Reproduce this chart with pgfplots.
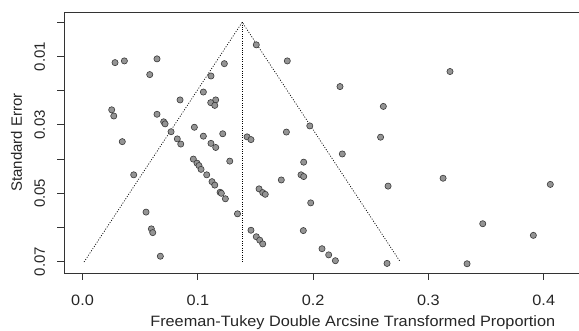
\documentclass[border=0pt]{standalone}
\usepackage{fontspec}
\setmainfont{Liberation Sans}[FakeStretch=1.085]
\newfontfamily\vfont{Liberation Sans}
\usepackage{pgfplots}
\pgfplotsset{compat=1.18}
\pgfplotstableread{
x y
0.0282 0.0118
0.0363 0.0113
0.0646 0.0107
0.0583 0.0153
0.1230 0.0121
0.1114 0.0157
0.1048 0.0204
0.0846 0.0227
0.1155 0.0227
0.1112 0.0235
0.1147 0.0243
0.0253 0.0256
0.0271 0.0274
0.0646 0.0269
0.0704 0.0291
0.0716 0.0297
0.0768 0.0320
0.0970 0.0307
0.1048 0.0333
0.1216 0.0326
0.0345 0.0349
0.0822 0.0341
0.0852 0.0356
0.1114 0.0354
0.1155 0.0366
0.0961 0.0400
0.0993 0.0412
0.1010 0.0419
0.1028 0.0430
0.1077 0.0446
0.1123 0.0466
0.1147 0.0476
0.1193 0.0497
0.1204 0.0500
0.1239 0.0516
0.1277 0.0406
0.1344 0.0560
0.0444 0.0446
0.0551 0.0555
0.0597 0.0604
0.0609 0.0615
0.0675 0.0684
0.1507 0.0066
0.1776 0.0113
0.2233 0.0188
0.2609 0.0246
0.1971 0.0303
0.1768 0.0321
0.1427 0.0335
0.1461 0.0343
0.2585 0.0336
0.2253 0.0385
0.1918 0.0409
0.1724 0.0461
0.1895 0.0446
0.1918 0.0451
0.1531 0.0487
0.1563 0.0498
0.1585 0.0503
0.1979 0.0528
0.2650 0.0479
0.1461 0.0608
0.1507 0.0627
0.1537 0.0637
0.1563 0.0648
0.1915 0.0609
0.2077 0.0662
0.2135 0.0680
0.2193 0.0697
0.2641 0.0705
0.3187 0.0144
0.3127 0.0456
0.4057 0.0474
0.3471 0.0589
0.3910 0.0623
0.3335 0.0706
}\studies
\begin{document}
\fontsize{15}{18}\selectfont
\begin{tikzpicture}
\path[use as bounding box] (-64.3pt,-58pt) rectangle (514.7pt,273pt);
\begin{axis}[
  scale only axis, width=577pt, height=261pt,
  at={(0pt,0pt)}, anchor=south west,
  xmin=-0.0158, xmax=0.4846,
  ymin=-0.003, ymax=0.0733, y dir=reverse,
  scaled x ticks=false, scaled y ticks=false,
  axis line style={black!80, line width=0.8pt},
  tick pos=left, tick align=outside,
  major tick length=7pt,
  tick style={black!80, line width=0.8pt},
  xtick={0,0.1,0.2,0.3,0.4},
  xticklabels={0.0,0.1,0.2,0.3,0.4},
  ytick={0,0.01,0.02,0.03,0.04,0.05,0.06,0.07},
  yticklabels={{},0.01,{},0.03,{},0.05,{},0.07},
  /pgf/number format/assume math mode=true,
  xticklabel style={anchor=north, inner sep=0pt, font=\fontsize{15}{18}\selectfont, text=black!85},
  yticklabel style={rotate=90, anchor=south, inner sep=0pt, font=\vfont\fontsize{15}{18}\selectfont, text=black!85},
  xticklabel shift=14.6pt,
  yticklabel shift=12pt,
  xlabel={Freeman-Tukey Double Arcsine Transformed Proportion},
  ylabel={Standard Error},
  every axis x label/.style={at={([yshift=-54pt]axis description cs:0.5,0)}, anchor=base, font=\fontsize{15}{18}\selectfont, text=black!85},
  every axis y label/.style={at={([xshift=-42.3pt]axis description cs:0,0.5)}, rotate=90, anchor=base, font=\vfont\fontsize{15}{18}\selectfont, text=black!85},
  clip=false,
]
\addplot[black, line width=0.7pt, dash pattern=on 1pt off 1.6pt] coordinates {(0.0013,0.0701) (0.1385,0) (0.2757,0.0701)};
\addplot[black, line width=0.7pt, dash pattern=on 1pt off 1.3pt] coordinates {(0.1385,0) (0.1385,0.0700)};
\addplot[only marks, mark=*, mark size=3.1pt, mark options={fill=black!42, draw=black!78, line width=0.6pt}] table[x=x, y=y] {\studies};
\end{axis}
\end{tikzpicture}
\end{document}
